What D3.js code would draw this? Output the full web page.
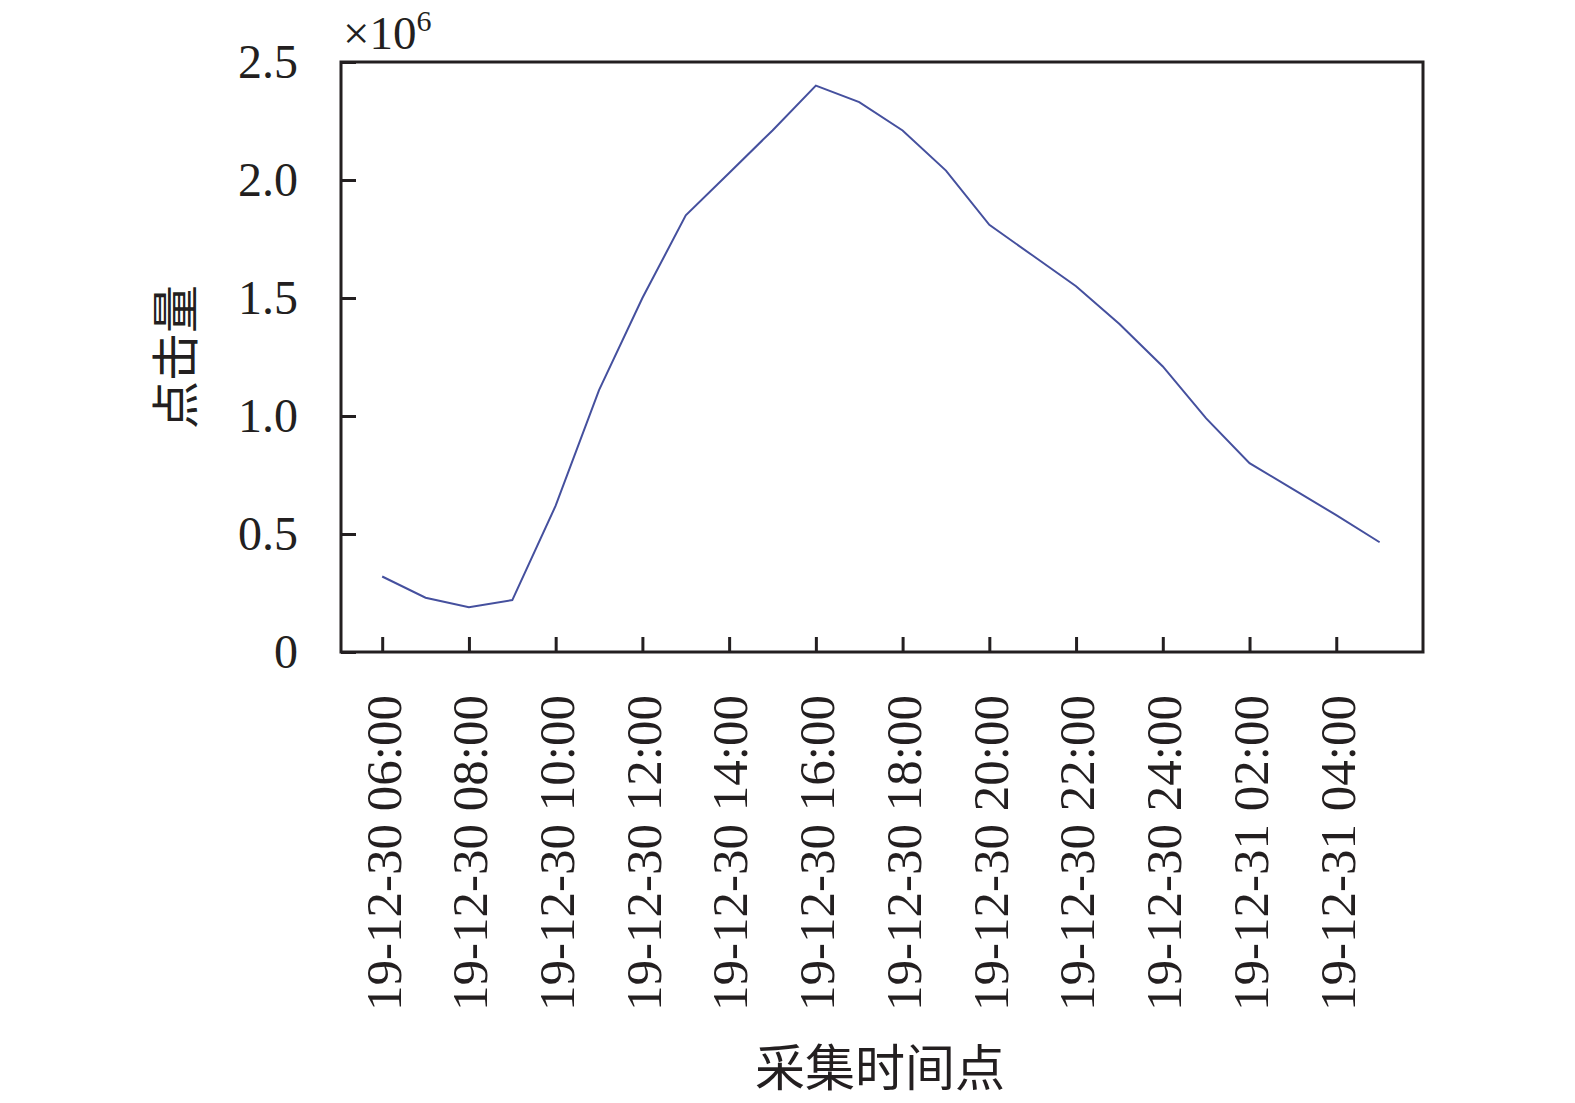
<!DOCTYPE html>
<html>
<head>
<meta charset="utf-8">
<script src="https://cdn.jsdelivr.net/npm/d3@7"></script>
<style>
  body { margin: 0; background: #fff; }
  svg text { fill: #231f20; }
</style>
</head>
<body>
<div id="chart"></div>
<script>
// hourly samples, 19-12-30 06:00 -> 19-12-31 05:00 (index = hours after 06:00)
const hours = d3.range(0, 24);
const clicks = [0.32, 0.23, 0.19, 0.22, 0.62, 1.11, 1.50, 1.85, 2.03, 2.21, 2.40, 2.33,
                2.21, 2.04, 1.81, 1.68, 1.55, 1.39, 1.21, 0.99, 0.80, 0.69, 0.58, 0.465];
const xTickIdx = [0, 2, 4, 6, 8, 10, 12, 14, 16, 18, 20, 22];
const xTickLabels = ['19-12-30 06:00', '19-12-30 08:00', '19-12-30 10:00', '19-12-30 12:00',
                     '19-12-30 14:00', '19-12-30 16:00', '19-12-30 18:00', '19-12-30 20:00',
                     '19-12-30 22:00', '19-12-30 24:00', '19-12-31 02:00', '19-12-31 04:00'];
const yTicks = [0, 0.5, 1.0, 1.5, 2.0, 2.5];

const width = 1575, height = 1103;
const serif = '"Liberation Serif", "Times New Roman", serif';
const cjk = '"Noto Sans CJK SC", sans-serif';
const ink = '#231f20';

const svg = d3.select('#chart').append('svg')
  .attr('width', width)
  .attr('height', height);

const plot = {left: 341, right: 1423, top: 62, bottom: 652};

const x = d3.scaleLinear().domain([-0.95, 24]).range([plot.left, plot.right]);
const y = d3.scaleLinear().domain([0, 2.5]).range([plot.bottom, plot.top]);

// y axis
const yAxis = svg.append('g')
  .attr('transform', `translate(${plot.left},0)`)
  .call(d3.axisLeft(y)
    .tickValues(yTicks)
    .tickSizeInner(-15)
    .tickSizeOuter(0)
    .tickPadding(43)
    .tickFormat(d => d === 0 ? '0' : d3.format('.1f')(d)));
yAxis.select('.domain').remove();
yAxis.selectAll('line').attr('stroke', ink).attr('stroke-width', 3);
yAxis.selectAll('text')
  .style('font-family', serif)
  .style('font-size', '48px')
  .attr('fill', ink);

// x axis
const xAxis = svg.append('g')
  .attr('transform', `translate(0,${plot.bottom})`)
  .call(d3.axisBottom(x)
    .tickValues(xTickIdx)
    .tickSizeInner(-15)
    .tickSizeOuter(0)
    .tickFormat((d, i) => xTickLabels[i]));
xAxis.select('.domain').remove();
xAxis.selectAll('line').attr('stroke', ink).attr('stroke-width', 3);
xAxis.selectAll('text')
  .style('font-family', serif)
  .style('font-size', '51px')
  .attr('fill', ink)
  .attr('text-anchor', 'end')
  .attr('transform', 'rotate(-90)')
  .attr('x', -43)
  .attr('y', 0)
  .attr('dy', '0.35em');

// frame
svg.append('rect')
  .attr('x', plot.left)
  .attr('y', plot.top)
  .attr('width', plot.right - plot.left)
  .attr('height', plot.bottom - plot.top)
  .attr('fill', 'none')
  .attr('stroke', ink)
  .attr('stroke-width', 3);

// line
const line = d3.line()
  .x((d, i) => x(hours[i]))
  .y(d => y(d));

svg.append('path')
  .datum(clicks)
  .attr('d', line)
  .attr('fill', 'none')
  .attr('stroke', '#45509e')
  .attr('stroke-width', 2);

// multiplier
const mult = svg.append('text')
  .attr('x', plot.left + 2)
  .attr('y', 49)
  .style('font-family', serif)
  .style('font-size', '47px');
mult.append('tspan').text('×10');
mult.append('tspan')
  .attr('dy', -18)
  .style('font-size', '30px')
  .text('6');

// axis titles
svg.append('text')
  .attr('transform', `translate(${176},${(plot.top + plot.bottom) / 2}) rotate(-90)`)
  .attr('text-anchor', 'middle')
  .attr('dy', '0.35em')
  .style('font-family', cjk)
  .style('font-size', '48px')
  .text('点击量');

svg.append('text')
  .attr('x', 880)
  .attr('y', 1086)
  .attr('text-anchor', 'middle')
  .style('font-family', cjk)
  .style('font-size', '50px')
  .text('采集时间点');
</script>
</body>
</html>
